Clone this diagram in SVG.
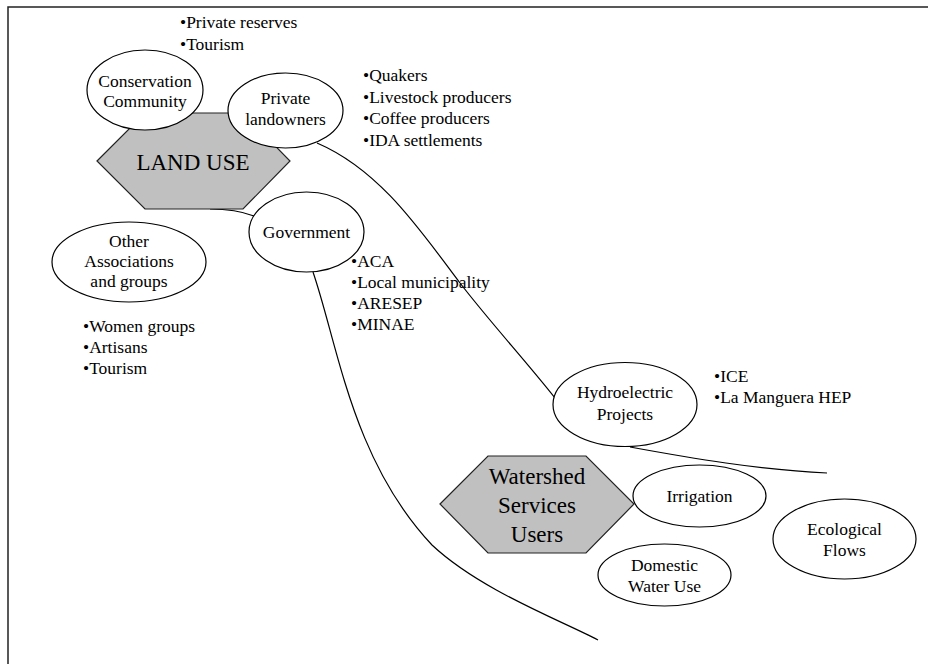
<svg xmlns="http://www.w3.org/2000/svg" width="928" height="664" viewBox="0 0 928 664">
<style>
text{font-family:"Liberation Serif","Times New Roman",serif;font-size:17.5px;fill:#000}
.c{text-anchor:middle}
.big{font-size:23px}
.hex{fill:#c0c0c0;stroke:#222;stroke-width:1.2}
.ell{fill:#fff;stroke:#000;stroke-width:1.2}
.con{fill:none;stroke:#000;stroke-width:1.2}
.frame{fill:none;stroke:#222;stroke-width:1.5}
</style>
<g id="frame"><path class="frame" d="M8,664 L8,7 L928,7"/></g>
<g id="connectors">
<path class="con" d="M210,209 Q236,209 254,216"/>
<path class="con" d="M317,143 C380,170 420,230 460,283 C490,322 525,360 555,398"/>
<path class="con" d="M313,272 C338,345 352,460 432,545 C480,590 560,620 598,640"/>
<path class="con" d="M630,447 C690,458 760,470 827,473"/>
</g>
<g id="land-use"><polygon class="hex" points="97,161 145,113 243,113 290,161 243,209 145,209"/><text class="c big" x="193" y="170">LAND USE</text></g>
<g id="conservation-community"><ellipse class="ell" cx="145" cy="90" rx="58" ry="40"/><text class="c" x="145" y="87">Conservation</text><text class="c" x="145" y="107">Community</text></g>
<g id="private-landowners"><ellipse class="ell" cx="285.5" cy="110.5" rx="57.5" ry="37.5"/><text class="c" x="285.5" y="104">Private</text><text class="c" x="285.5" y="125">landowners</text></g>
<g id="government"><ellipse class="ell" cx="306.5" cy="232" rx="57.5" ry="40"/><text class="c" x="306.5" y="238">Government</text></g>
<g id="other-associations"><ellipse class="ell" cx="129" cy="262" rx="77" ry="40"/><text class="c" x="129" y="247">Other</text><text class="c" x="129" y="267">Associations</text><text class="c" x="129" y="287">and groups</text></g>
<g id="hydroelectric"><ellipse class="ell" cx="625" cy="404.5" rx="72" ry="42"/><text class="c" x="625" y="398">Hydroelectric</text><text class="c" x="625" y="420">Projects</text></g>
<g id="watershed"><polygon class="hex" points="440,504 488,456 586,456 634,504 586,553 488,553"/><text class="c big" x="537" y="484">Watershed</text><text class="c big" x="537" y="513">Services</text><text class="c big" x="537" y="542">Users</text></g>
<g id="irrigation"><ellipse class="ell" cx="699.5" cy="496" rx="66.5" ry="31"/><text class="c" x="699.5" y="502">Irrigation</text></g>
<g id="domestic"><ellipse class="ell" cx="664.5" cy="575" rx="66.5" ry="31"/><text class="c" x="664.5" y="571">Domestic</text><text class="c" x="664.5" y="592">Water Use</text></g>
<g id="ecological"><ellipse class="ell" cx="844.5" cy="539" rx="71.5" ry="40"/><text class="c" x="844.5" y="535">Ecological</text><text class="c" x="844.5" y="556">Flows</text></g>
<g id="lists">
<text x="180" y="28">•Private reserves</text>
<text x="180" y="50">•Tourism</text>
<text x="363" y="81">•Quakers</text>
<text x="363" y="102.5">•Livestock producers</text>
<text x="363" y="124">•Coffee producers</text>
<text x="363" y="145.5">•IDA settlements</text>
<text x="351" y="267">•ACA</text>
<text x="351" y="288">•Local municipality</text>
<text x="351" y="309">•ARESEP</text>
<text x="351" y="330">•MINAE</text>
<text x="83" y="332">•Women groups</text>
<text x="83" y="353">•Artisans</text>
<text x="83" y="374">•Tourism</text>
<text x="714" y="382">•ICE</text>
<text x="714" y="403">•La Manguera HEP</text>
</g>
</svg>
